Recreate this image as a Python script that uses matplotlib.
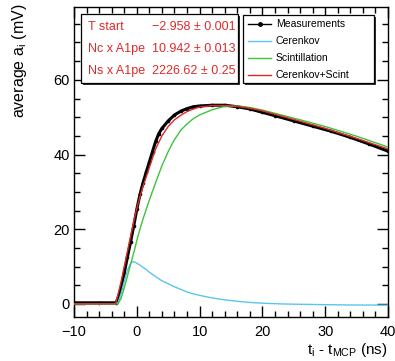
import matplotlib
matplotlib.use("Agg")
import matplotlib.pyplot as plt
from matplotlib.ticker import MultipleLocator
from matplotlib.patches import Rectangle
from matplotlib.lines import Line2D

plt.rcParams['font.family'] = ['Liberation Sans', 'DejaVu Sans']
plt.rcParams['mathtext.fontset'] = 'custom'
plt.rcParams['mathtext.rm'] = 'Liberation Sans'
plt.rcParams['mathtext.it'] = 'Liberation Sans:italic'

# measured average amplitude vs time (ns, mV)
t_meas = [-10, -6, -3.3, -3.0, -2.5, -2.0, -1.5, -1.0, -0.5, 0.0, 0.5, 1.0, 1.5,
          2.0, 2.5, 3.0, 3.5, 4.0, 5.0, 6.0, 7.0, 8.0, 9.0, 10, 12, 14, 16,
          18, 20, 22, 25, 28, 31, 34, 37, 40]
a_meas = [0.3, 0.3, 0.3, 1.5, 4.2, 8.3, 12.5, 16.5, 20.8, 25.3, 29.3, 32.5, 35.3,
          38.0, 40.8, 43.5, 45.6, 47.0, 49.0, 50.6, 51.6, 52.3, 52.8, 53.0, 53.2, 53.2, 52.8,
          52.2, 51.3, 50.4, 49.0, 47.6, 46.2, 44.6, 42.8, 40.9]

# fit components evaluated on a common time grid
t_fit = [-10, -6, -3.4, -3.0, -2.5, -2.0, -1.5, -1.0, -0.7, -0.3, 0.0, 0.5, 1.0, 1.5,
         2.0, 3.0, 4.0, 5.0, 6.0, 7.0, 8.0, 9.0, 10, 12, 14, 16, 18, 20, 23,
         26, 30, 35, 40]
cerenkov = [0.0, 0.0, 0.0, 0.3, 2.8, 6.0, 9.0, 10.8, 11.3, 11.2, 10.9, 10.4, 9.8, 9.2,
            8.5, 7.3, 6.2, 5.4, 4.6, 3.9, 3.2, 2.7, 2.3, 1.6, 1.1, 0.7, 0.4, 0.2, 0.0,
            -0.1, -0.2, -0.3, -0.3]
scint = [0.0, 0.0, 0.0, 0.0, 1.5, 4.3, 7.4, 10.5, 12.4, 14.9, 17.0, 20.0, 22.8, 25.3,
         27.8, 32.5, 37.0, 40.8, 44.0, 46.5, 48.2, 49.6, 50.6, 52.0, 52.9, 53.0, 52.6, 51.9, 50.6,
         49.3, 47.5, 44.9, 42.0]
total = [0.0, 0.0, 0.0, 2.5, 6.0, 10.0, 14.0, 18.0, 20.4, 23.5, 25.6, 28.7, 31.5, 34.0,
         36.5, 41.5, 45.0, 47.5, 49.3, 50.5, 51.5, 52.2, 52.7, 53.1, 53.1, 52.9, 52.4, 51.7, 50.3,
         48.9, 47.0, 44.3, 41.5]

fit_labels = ['T start', 'Nc x A1pe', 'Ns x A1pe']
fit_values = ['\u22122.958 \u00b1 0.001', '10.942 \u00b1 0.013', '2226.62 \u00b1 0.25']

c_blue = '#5cc4ee'
c_green = '#3cc43c'
c_red = '#e02a2a'

W, H = 395, 361
fig = plt.figure(figsize=(W / 100, H / 100), dpi=100)
ax = fig.add_axes([74 / W, 1 - 317 / H, 314 / W, 310 / H])

ax.plot(t_meas, a_meas, color='black', lw=2.2, marker='o', ms=1.6, zorder=3)
ax.plot(t_fit, cerenkov, color=c_blue, lw=1.0, zorder=4)
ax.plot(t_fit, scint, color=c_green, lw=1.0, zorder=4)
ax.plot(t_fit, total, color=c_red, lw=1.0, zorder=4)

ax.set_xlim(-10, 40)
ax.set_ylim(-3.5, 79.5)
ax.xaxis.set_major_locator(MultipleLocator(10))
ax.xaxis.set_minor_locator(MultipleLocator(2))
ax.yaxis.set_major_locator(MultipleLocator(20))
ax.yaxis.set_minor_locator(MultipleLocator(5))
ax.tick_params(which='both', direction='in', top=True, right=True, labelsize=10.5, width=1.0)
ax.tick_params(which='major', length=8)
ax.tick_params(which='minor', length=4.5)
ax.tick_params(axis='x', pad=6)
ax.tick_params(axis='y', pad=3)
for s in ax.spines.values():
    s.set_linewidth(1.0)

fig.text(20 / W, 1 - 4 / H, 'average a$_{\\rm i}$ (mV)', rotation=90,
         ha='center', va='top', fontsize=11.5)
fig.text(388 / W, 1 - 350 / H, 't$_{\\rm i}$ - t$_{\\rm MCP}$ (ns)',
         ha='right', va='center', fontsize=11)


def framed_box(x0, y0, x1, y1):
    # white box with a dark drop shadow, in figure fractions
    sh = Rectangle((x0 + 2 / W, y0 - 2 / H), x1 - x0, y1 - y0, transform=fig.transFigure,
                   facecolor='#333333', edgecolor='none', zorder=5)
    bx = Rectangle((x0, y0), x1 - x0, y1 - y0, transform=fig.transFigure,
                   facecolor='white', edgecolor='black', lw=0.9, zorder=6)
    fig.add_artist(sh)
    fig.add_artist(bx)


# fit parameter box
framed_box(81 / W, 1 - 83 / H, 238 / W, 1 - 14 / H)
for i, (lab, val) in enumerate(zip(fit_labels, fit_values)):
    y = 1 - (27 + 22 * i) / H
    fig.text(88 / W, y, lab, color=c_red, fontsize=9, va='center', zorder=7)
    fig.text(152 / W, y, val, color=c_red, fontsize=9, va='center', zorder=7)

# legend box
framed_box(243 / W, 1 - 83 / H, 374 / W, 1 - 15 / H)
leg_items = [('Measurements', 'black', 'o'), ('Cerenkov', c_blue, None),
             ('Scintillation', c_green, None), ('Cerenkov+Scint', c_red, None)]
for i, (lab, col, mk) in enumerate(leg_items):
    y = 1 - (24 + 17 * i) / H
    fig.add_artist(Line2D([248 / W, 271 / W], [y, y], transform=fig.transFigure,
                          color=col, lw=1.0, zorder=7))
    if mk:
        fig.add_artist(Line2D([259.5 / W], [y], transform=fig.transFigure, color=col,
                              marker=mk, ms=2.5, zorder=7))
    fig.text(276 / W, y, lab, fontsize=7.5, va='center', zorder=7)

fig.savefig('out.png', dpi=100)
